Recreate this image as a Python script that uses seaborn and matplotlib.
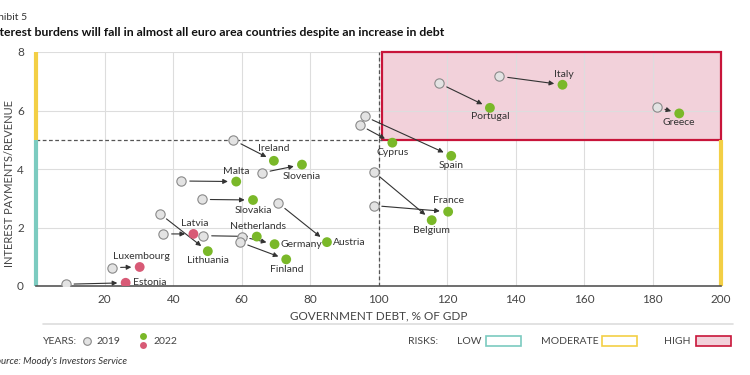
import pandas as pd
import matplotlib.pyplot as plt
import matplotlib.patches as mpatches
from matplotlib.lines import Line2D
import seaborn as sns

# Data
countries = ["Estonia", "Luxembourg", "Latvia", "Lithuania", "Malta", "Slovakia",
             "Ireland", "Slovenia", "Netherlands", "Germany", "Finland", "Austria",
             "Cyprus", "Spain", "Belgium", "France", "Portugal", "Italy", "Greece"]
debt_2019 = [8.6, 22.2, 37.1, 36.1, 42.4, 48.4, 57.6, 65.9, 48.8, 60.0, 59.5, 70.7,
             94.5, 95.9, 98.5, 98.5, 117.7, 135.3, 181.3]
burden_2019 = [0.06, 0.63, 1.78, 2.47, 3.59, 2.96, 4.99, 3.87, 1.72, 1.69, 1.50, 2.83,
               5.50, 5.80, 3.91, 2.75, 6.93, 7.17, 6.12]
debt_2022 = [26.1, 30.2, 45.9, 50.1, 58.4, 63.3, 69.4, 77.6, 64.4, 69.6, 73.0, 84.9,
             104.0, 121.2, 115.5, 120.3, 132.5, 153.7, 187.8]
burden_2022 = [0.11, 0.65, 1.78, 1.19, 3.57, 2.94, 4.28, 4.15, 1.69, 1.43, 0.91, 1.50,
               4.90, 4.45, 2.25, 2.54, 6.09, 6.88, 5.90]
group_2022 = ["red", "red", "red", "green", "green", "green", "green", "green", "green",
              "green", "green", "green", "green", "green", "green", "green", "green",
              "green", "green"]

# label placement: offset in pixels (dx, dy) and alignment
label_pos = {
    "Estonia": (7, 0, "left"), "Luxembourg": (2, 10, "center"), "Latvia": (1, 10, "center"),
    "Lithuania": (0, -9, "center"), "Malta": (0, 10, "center"), "Slovakia": (0, -10, "center"),
    "Ireland": (0, 12, "center"), "Slovenia": (0, -12, "center"), "Netherlands": (1, 10, "center"),
    "Germany": (6, 0, "left"), "Finland": (1, -10, "center"), "Austria": (6, 0, "left"),
    "Cyprus": (0, -10, "center"), "Spain": (0, -10, "center"), "Belgium": (0, -10, "center"),
    "France": (0, 11, "center"), "Portugal": (0, -9, "center"), "Italy": (1, 10, "center"),
    "Greece": (0, -9, "center"),
}

df19 = pd.DataFrame({"country": countries, "debt": debt_2019, "burden": burden_2019})
df22 = pd.DataFrame({"country": countries, "debt": debt_2022, "burden": burden_2022,
                     "group": group_2022})

green = "#7ab829"
red = "#d85a76"
grey_fill = "#e3e3e3"
teal = "#7ccbc0"
yellow = "#f3cf45"
crimson = "#c8153a"
pink = "#f2d1da"
txt = "#333333"

sns.set_theme(style="white")
plt.rcParams["font.family"] = ["Lato", "DejaVu Sans"]

W, H = 750, 375
fig = plt.figure(figsize=(7.5, 3.75), dpi=100)
ax = fig.add_axes([36.3 / W, 1 - 286 / H, (721 - 36.3) / W, 234 / H])

ax.set_xlim(0, 200)
ax.set_ylim(0, 8)

# high risk zone
ax.add_patch(mpatches.Rectangle((101, 5), 99, 3, facecolor=pink, edgecolor="none", zorder=0))

# grid
for gx in range(20, 200, 20):
    ax.plot([gx, gx], [0, 8], color="#dddddd", lw=0.8, zorder=0.5)
for gy in [2, 4, 6, 8]:
    ax.plot([0, 200], [gy, gy], color="#dddddd", lw=0.8, zorder=0.5)

ax.add_patch(mpatches.Rectangle((101, 5), 99, 3, facecolor="none", edgecolor=crimson,
                                lw=1.6, zorder=1, clip_on=False))

# thresholds
ax.plot([100, 100], [0, 8], color="#555555", lw=0.9, ls=(0, (3, 2)), zorder=1)
ax.plot([0, 101], [5, 5], color="#555555", lw=0.9, ls=(0, (3, 2)), zorder=1)

# risk bars on axis edges
ax.plot([0, 0], [0, 5], color=teal, lw=3, solid_capstyle="butt", clip_on=False, zorder=2)
ax.plot([0, 0], [5, 8], color=yellow, lw=3, solid_capstyle="butt", clip_on=False, zorder=2)
ax.plot([200, 200], [0, 5], color=yellow, lw=3, solid_capstyle="butt", clip_on=False, zorder=2)

# arrows 2019 -> 2022
for i in range(len(countries)):
    ax.annotate("", xy=(debt_2022[i], burden_2022[i]), xytext=(debt_2019[i], burden_2019[i]),
                arrowprops=dict(arrowstyle="-|>", color="#333333", lw=0.8,
                                mutation_scale=7, shrinkA=6, shrinkB=6),
                zorder=3)

sns.scatterplot(data=df19, x="debt", y="burden", s=45, color=grey_fill,
                edgecolor="#8a8a8a", linewidth=0.8, ax=ax, zorder=4, legend=False)
sns.scatterplot(data=df22, x="debt", y="burden", hue="group",
                palette={"green": green, "red": red}, s=50, edgecolor="none",
                ax=ax, zorder=4, legend=False)

for c, x, y in zip(countries, debt_2022, burden_2022):
    dx, dy, ha = label_pos[c]
    ax.annotate(c, (x, y), xytext=(dx, dy), textcoords="offset pixels",
                ha=ha, va="center", fontsize=7.5, color=txt, zorder=5)

for s in ["top", "right", "left"]:
    ax.spines[s].set_visible(False)
ax.spines["bottom"].set_color("#555555")
ax.spines["bottom"].set_linewidth(1.2)

ax.set_xticks(range(20, 201, 20))
ax.set_yticks(range(0, 9, 2))
ax.tick_params(axis="both", length=0, labelsize=8.5, colors="#444444")
ax.tick_params(axis="x", pad=6)
ax.tick_params(axis="y", pad=9)
ax.set_xlabel("GOVERNMENT DEBT, % OF GDP", fontsize=8.5, color="#444444", labelpad=4)
ax.set_ylabel("INTEREST PAYMENTS/REVENUE", fontsize=8, color="#444444")
ax.yaxis.set_label_coords(-0.031, 0.436)

# titles (cropped at left edge like the source image)
fig.text(-13 / W, 1 - 17 / H, "Exhibit 5", fontsize=7.5, color=txt, ha="left", va="center")
fig.text(-11 / W, 1 - 33 / H,
         "Interest burdens will fall in almost all euro area countries despite an increase in debt",
         fontsize=8.8, fontweight="bold", color="#111111", ha="left", va="center")

# legend footer (pixel positions converted to figure fractions)
def fx(px):
    return px / W


def fy(py):
    return 1 - py / H


fig.add_artist(Line2D([fx(43), fx(733)], [fy(324), fy(324)], color="#dddddd", lw=1.2))
ly = fy(341)
fs = 7.5
fig.text(fx(43), ly, "YEARS:", fontsize=fs, color="#444444", va="center")
fig.add_artist(Line2D([fx(87)], [ly], marker="o", ms=5.5, mfc=grey_fill, mec="#8a8a8a",
                      mew=0.8, ls="none"))
fig.text(fx(96), ly, "2019", fontsize=fs, color="#444444", va="center")
fig.add_artist(Line2D([fx(143)], [fy(336)], marker="o", ms=5, mfc=green, mec="none", ls="none"))
fig.add_artist(Line2D([fx(143)], [fy(345)], marker="o", ms=5, mfc=red, mec="none", ls="none"))
fig.text(fx(153), ly, "2022", fontsize=fs, color="#444444", va="center")

fig.text(fx(408), ly, "RISKS:", fontsize=fs, color="#444444", va="center")
for lab, tx, bx, col, fc in [("LOW", 457, 486, teal, "white"),
                             ("MODERATE", 541, 602, yellow, "white"),
                             ("HIGH", 664, 696, crimson, pink)]:
    fig.text(fx(tx), ly, lab, fontsize=fs, color="#444444", va="center")
    fig.add_artist(mpatches.Rectangle((fx(bx), fy(346)), 35 / W, 10 / H,
                                      transform=fig.transFigure,
                                      facecolor=fc, edgecolor=col, lw=1.2))

fig.text(-9 / W, fy(362), "Source: Moody's Investors Service", fontsize=7, style="italic",
         color=txt, ha="left", va="center")

fig.savefig("out.png", dpi=100, facecolor="white")
